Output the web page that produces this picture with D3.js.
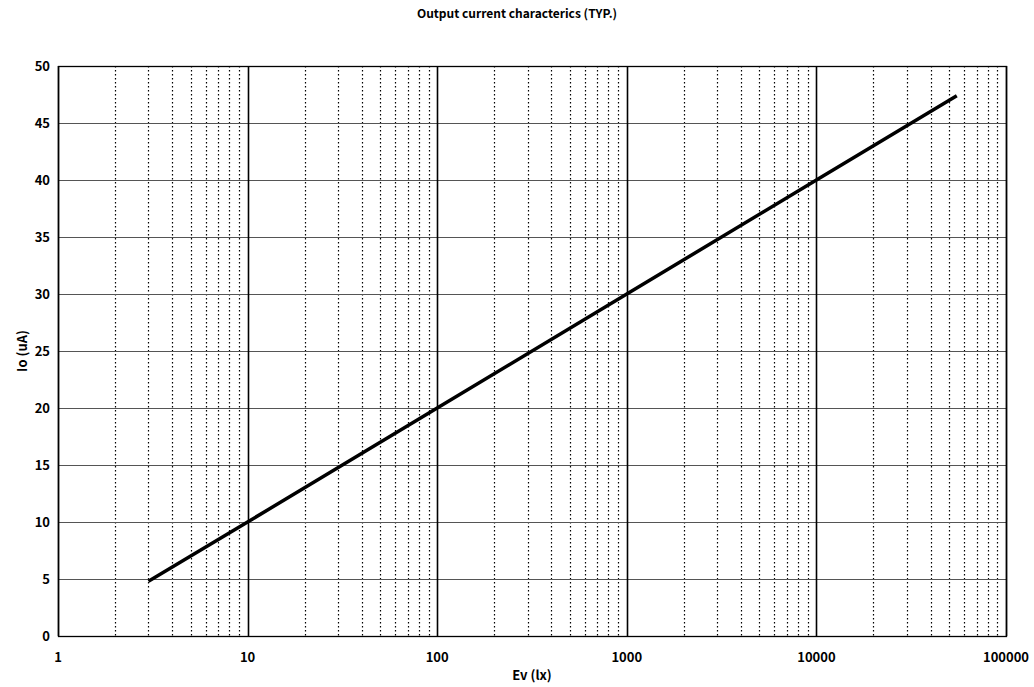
<!DOCTYPE html>
<html lang="en">
<head>
    <meta charset="utf-8">
    <title>Output current characteristics</title>
    <script src="https://d3js.org/d3.v7.min.js"></script>
    <style>
        body { margin: 0; background: #fff; }
        text { font-family: "Noto Sans CJK JP", "DejaVu Sans", sans-serif; fill: #000; }
    </style>
</head>
<body>
    <div id="chart"></div>
    <script>
        // values
        var evValues = [3, 10, 100, 1000, 10000, 55000];
        var ioValues = [4.8, 10, 20, 30, 40, 47.4];
        var xTicks = [1, 10, 100, 1000, 10000, 100000];
        var yTicks = [0, 5, 10, 15, 20, 25, 30, 35, 40, 45, 50];

        var margin = { top: 66, right: 28, bottom: 51, left: 58 },
            width = 1034 - margin.left - margin.right,
            height = 687 - margin.top - margin.bottom;

        var svg = d3.select("#chart")
            .append("svg")
            .attr("width", 1034)
            .attr("height", 687);

        var g = svg.append("g")
            .attr("transform", "translate(" + margin.left + "," + margin.top + ")");

        var x = d3.scaleLog().domain([1, 100000]).range([0, width]);
        var y = d3.scaleLinear().domain([0, 50]).range([height, 0]);

        // minor dotted verticals (2..9 of each decade)
        var minor = [];
        for (var i = 0; i < xTicks.length - 1; i++) {
            for (var m = 2; m <= 9; m++) minor.push(xTicks[i] * m);
        }
        g.selectAll(".minor")
            .data(minor)
            .enter()
            .append("line")
            .attr("x1", function (d) { return Math.round(x(d)) + 0.5; })
            .attr("x2", function (d) { return Math.round(x(d)) + 0.5; })
            .attr("y1", 0)
            .attr("y2", height)
            .attr("stroke", "#000")
            .attr("stroke-width", 1.2)
            .attr("stroke-dasharray", "1.5,2.5");

        // horizontal gridlines
        g.selectAll(".hgrid")
            .data(yTicks)
            .enter()
            .append("line")
            .attr("x1", 0)
            .attr("x2", width)
            .attr("y1", function (d) { return Math.round(y(d)) + 0.5; })
            .attr("y2", function (d) { return Math.round(y(d)) + 0.5; })
            .attr("stroke", "#555")
            .attr("stroke-width", 1);

        // decade verticals
        g.selectAll(".major")
            .data(xTicks)
            .enter()
            .append("line")
            .attr("x1", function (d) { return Math.round(x(d)) + 0.5; })
            .attr("x2", function (d) { return Math.round(x(d)) + 0.5; })
            .attr("y1", 0)
            .attr("y2", height)
            .attr("stroke", "#000")
            .attr("stroke-width", 1.6);

        g.append("rect")
            .attr("x", 0.5).attr("y", 0.5)
            .attr("width", width).attr("height", height)
            .attr("fill", "none")
            .attr("stroke", "#000")
            .attr("stroke-width", 1.3);

        // data line
        var pts = evValues.map(function (d, i) { return [d, ioValues[i]]; });
        var line = d3.line()
            .x(function (d) { return x(d[0]); })
            .y(function (d) { return y(d[1]); });
        g.append("path")
            .attr("d", line(pts))
            .attr("fill", "none")
            .attr("stroke", "#000")
            .attr("stroke-width", 3.5);

        // y tick labels
        g.selectAll(".ylab")
            .data(yTicks)
            .enter()
            .append("text")
            .attr("x", -8)
            .attr("y", function (d) { return y(d); })
            .attr("dy", "0.35em")
            .attr("text-anchor", "end")
            .style("font-size", "13px")
            .style("font-weight", "bold")
            .text(function (d) { return d; });

        // x tick labels
        g.selectAll(".xlab")
            .data(xTicks)
            .enter()
            .append("text")
            .attr("x", function (d) { return x(d); })
            .attr("y", height + 26)
            .attr("text-anchor", "middle")
            .style("font-size", "13px")
            .style("font-weight", "bold")
            .text(function (d) { return d; });

        svg.append("text")
            .attr("x", 517).attr("y", 18)
            .attr("text-anchor", "middle")
            .style("font-size", "12px")
            .style("font-weight", "bold")
            .text("Output current characterics (TYP.)");

        svg.append("text")
            .attr("x", margin.left + width / 2).attr("y", 680)
            .attr("text-anchor", "middle")
            .style("font-size", "13px")
            .style("font-weight", "bold")
            .text("Ev (lx)");

        svg.append("text")
            .attr("transform", "translate(27," + (margin.top + height / 2) + ") rotate(-90)")
            .attr("text-anchor", "middle")
            .style("font-size", "13px")
            .style("font-weight", "bold")
            .text("Io (uA)");
    </script>
</body>
</html>
